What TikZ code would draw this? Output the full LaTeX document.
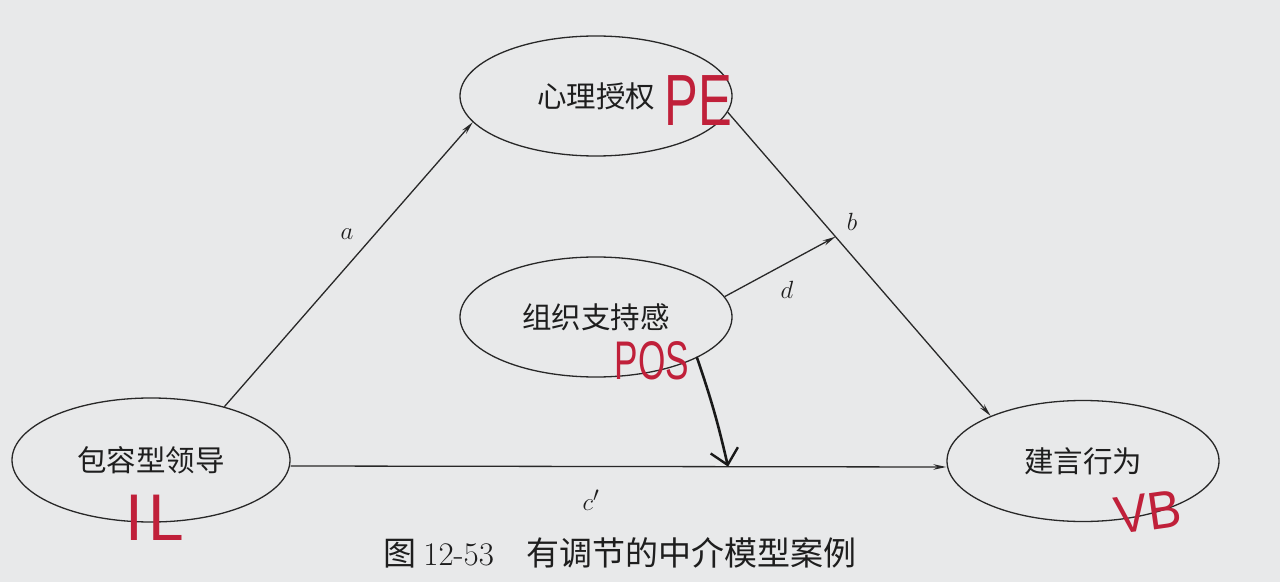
\documentclass[tikz,border=0pt]{standalone}
\usepackage{fontspec}
\usepackage{graphicx}
\newfontfamily\cjk{Noto Sans CJK SC}
\newfontfamily\handf{Liberation Sans}
\usetikzlibrary{shapes.geometric,arrows.meta}
\definecolor{bgc}{RGB}{232,233,234}
\definecolor{linec}{RGB}{40,40,40}
\definecolor{txtc}{RGB}{30,30,30}
\definecolor{redc}{RGB}{192,32,58}
\begin{document}
\begin{tikzpicture}[x=1pt,y=1pt,
  ell/.style={ellipse,draw=linec,line width=1.3pt,inner sep=0pt,
    font=\fontsize{29.5}{29.5}\selectfont\cjk,text=txtc},
  arr/.style={draw=linec,line width=1.3pt,-{Stealth[length=13pt,width=5.5pt]}},
  lab/.style={font=\fontsize{28}{28}\selectfont,text=txtc,inner sep=0pt},
  redtxt/.style={text=redc,inner sep=0pt},
  hw/.style={draw=black!90,line width=2.6pt,line cap=round,
    -{Straight Barb[length=15pt,width=28pt,line width=2.4pt]}}]
\fill[bgc] (0,0) rectangle (1280,582);
\useasboundingbox (0,0) rectangle (1280,582);

% ellipses
\node[ell,minimum width=272pt,minimum height=120pt] (PE) at (596,486) {心理授权};
\node[ell,minimum width=272pt,minimum height=120pt] (POS) at (596,265) {组织支持感};
\node[ell,minimum width=278pt,minimum height=124pt] (IL) at (151,122) {包容型领导};
\node[ell,minimum width=272pt,minimum height=121pt] (VB) at (1083,121) {建言行为};

% connectors
\draw[arr] (IL.36) -- (PE.192);
\draw[arr] (PE.-7) -- coordinate[pos=0.41] (bd) (VB.154);
\draw[arr] (POS.9) -- (bd);
\draw[arr] ([yshift=-6pt]IL.east) -- coordinate[pos=0.667] (cm) ([yshift=-6pt]VB.west);

% path labels
\node[lab] (la) at (347,348) {$a$};
\node[lab] (lb) at (852,360) {$b$};
\node[lab] (ld) at (787,292) {$d$};
\node[lab] (lc) at (591,82) {$c'$};

% handwritten moderation arrow
\draw[hw] (POS.-22) to[bend left=3] (cm);

% handwritten red abbreviations
\node[redtxt,font=\fontsize{44}{44}\selectfont\handf] (hPE) at (698,481) {\scalebox{1.15}[1.65]{PE}};
\node[redtxt,font=\fontsize{32}{32}\selectfont\handf] (hPOS) at (652,221) {\scalebox{1.1}[1.7]{POS}};
\node[redtxt,font=\fontsize{40}{40}\selectfont\handf] (hIL) at (155,64) {\scalebox{1.6}[1.65]{I\kern3pt L}};
\node[redtxt,font=\fontsize{40}{40}\selectfont\handf,rotate=8] (hVB) at (1148,70) {\scalebox{1.25}[1.33]{VB}};

% caption
\node[text=txtc,inner sep=0pt,font=\fontsize{33}{33}\selectfont\cjk] (cap) at (620,29)
  {图 {\rmfamily 12-53}\hspace{1em}有调节的中介模型案例};
\end{tikzpicture}
\end{document}
